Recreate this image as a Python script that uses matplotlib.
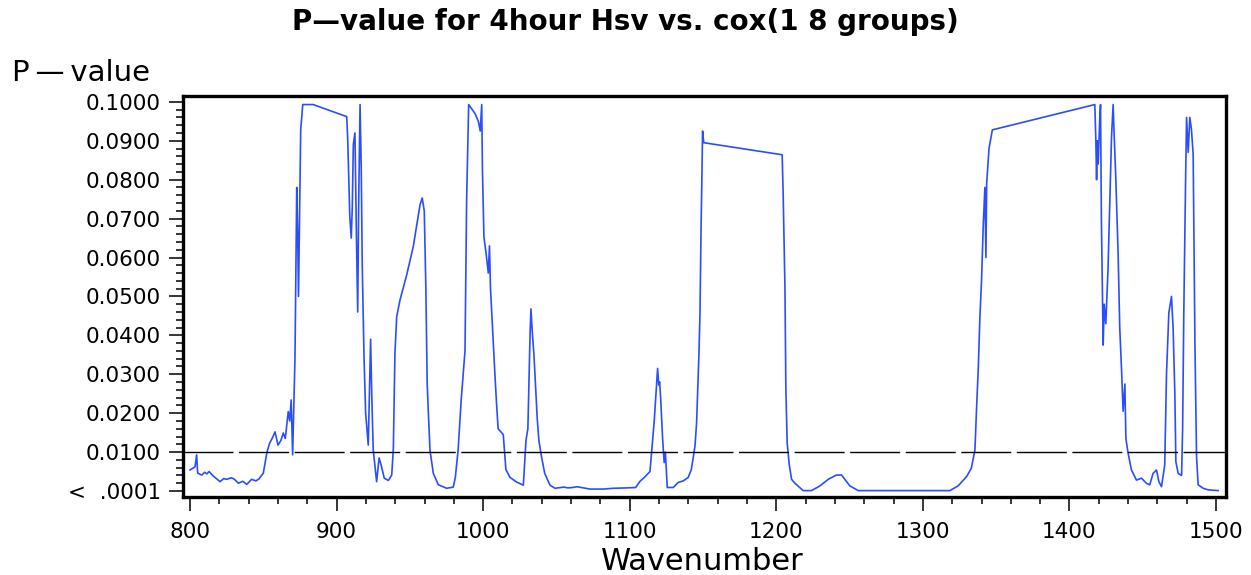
import numpy as np
import matplotlib.pyplot as plt
from matplotlib.ticker import MultipleLocator, FixedLocator

# wavenumber / p-value (values > 0.1 were dropped)
wavenumber = [
    800, 803.4, 804.5, 805.2, 808, 810, 811.5, 813, 816, 820.5,
    823, 825, 828, 830, 833, 836, 838.7, 842, 845, 847,
    850, 852.5, 854.3, 856, 858, 860, 862, 863.6, 865, 867,
    868, 869, 870, 871.6, 872.3, 872.8, 873.4, 874, 875.5, 876.9,
    884, 906.9, 907.6, 909, 910, 910.7, 911.4, 912.5, 913.5, 914.4,
    915, 916, 916.8, 917.5, 918.7, 919.8, 921.6, 923.2, 924, 925,
    927.3, 929, 930.5, 932.5, 935.3, 937.6, 938.7, 939.8, 941, 943.2,
    947.8, 952.3, 956.9, 958.4, 959.8, 960.9, 961.8, 962.5, 963.7, 966,
    969.4, 975.1, 979.6, 981, 982.9, 985, 987.6, 988.7, 990.1, 994.4,
    996.7, 998, 999, 999.5, 1000.5, 1002, 1003.5, 1004.3, 1005, 1006.9,
    1008, 1009.1, 1010.2, 1011.8, 1013.7, 1015.5, 1018.3, 1022.8, 1027.4, 1029.2,
    1030.5, 1032, 1032.6, 1033.3, 1034.6, 1035.8, 1036.9, 1038, 1039.8, 1042,
    1045.6, 1049, 1055, 1058, 1061, 1064, 1072.9, 1082, 1088.8, 1098,
    1104, 1107, 1110, 1113.8, 1115, 1116.7, 1118.3, 1119, 1119.8, 1120.4,
    1121, 1122.4, 1123.5, 1124.3, 1125.6, 1129.7, 1133, 1136.5, 1139.9, 1142,
    1144.5, 1145.6, 1147.2, 1147.9, 1148.6, 1149.7, 1150.5, 1204, 1204.7, 1205.9,
    1206.5, 1207.4, 1208.8, 1210.4, 1212.7, 1218.3, 1224, 1229.7, 1235.4, 1241,
    1244.5, 1250.2, 1255.9, 1318.4, 1324, 1329.8, 1333, 1335.5, 1336.6, 1337.8,
    1338.9, 1340, 1341.2, 1342.3, 1343, 1343.5, 1345.1, 1347.4, 1417.3, 1418,
    1418.5, 1419, 1419.6, 1420.7, 1421.2, 1421.8, 1423, 1423.7, 1424.8, 1426.3,
    1427.5, 1428.7, 1429.8, 1430.4, 1431.6, 1433.2, 1434.3, 1435.5, 1436.6, 1437.8,
    1438.5, 1440, 1442.3, 1445.7, 1449.1, 1452.5, 1454.8, 1457, 1459.4, 1461,
    1462.8, 1465, 1466.2, 1467.8, 1469.6, 1470.7, 1471.9, 1472.6, 1474.2, 1476.5,
    1477.2, 1478, 1479.2, 1479.9, 1481, 1482.1, 1483.2, 1484.4, 1485.6, 1486.7,
    1487.8, 1491.2, 1494.6, 1501.4,
]
p_value = [
    0.0054, 0.0062, 0.0093, 0.0046, 0.0041, 0.0048, 0.0044, 0.0050, 0.0038, 0.0024,
    0.0032, 0.0030, 0.0034, 0.0031, 0.0020, 0.0025, 0.0017, 0.0030, 0.0026, 0.0031,
    0.0046, 0.0100, 0.0123, 0.0135, 0.0152, 0.0118, 0.0130, 0.0149, 0.0135, 0.0204,
    0.0180, 0.0234, 0.0093, 0.0342, 0.0600, 0.0780, 0.0670, 0.0500, 0.0928, 0.0993,
    0.0993, 0.0962, 0.0902, 0.0705, 0.0650, 0.0730, 0.0890, 0.0920, 0.0660, 0.0460,
    0.0720, 0.0993, 0.0830, 0.0580, 0.0345, 0.0200, 0.0118, 0.0390, 0.0245, 0.0105,
    0.0024, 0.0085, 0.0065, 0.0033, 0.0027, 0.0041, 0.0108, 0.0354, 0.0448, 0.0490,
    0.0555, 0.0628, 0.0735, 0.0753, 0.0720, 0.0520, 0.0277, 0.0210, 0.0105, 0.0045,
    0.0016, 0.0007, 0.0010, 0.0035, 0.0105, 0.0234, 0.0360, 0.0745, 0.0993, 0.0970,
    0.0950, 0.0925, 0.0993, 0.0825, 0.0654, 0.0610, 0.0560, 0.0630, 0.0520, 0.0380,
    0.0300, 0.0226, 0.0160, 0.0153, 0.0145, 0.0055, 0.0035, 0.0023, 0.0015, 0.0130,
    0.0160, 0.0405, 0.0468, 0.0420, 0.0352, 0.0265, 0.0185, 0.0130, 0.0088, 0.0045,
    0.0015, 0.0007, 0.0010, 0.0008, 0.0009, 0.0011, 0.0005, 0.0005, 0.0007, 0.0008,
    0.0009, 0.0025, 0.0035, 0.0050, 0.0105, 0.0180, 0.0272, 0.0315, 0.0272, 0.0280,
    0.0245, 0.0135, 0.0073, 0.0100, 0.0009, 0.0009, 0.0022, 0.0026, 0.0035, 0.0055,
    0.0115, 0.0175, 0.0350, 0.0455, 0.0660, 0.0925, 0.0895, 0.0864, 0.0757, 0.0520,
    0.0266, 0.0124, 0.0068, 0.0030, 0.0020, 0.0001, 0.0001, 0.0013, 0.0030, 0.0041,
    0.0041, 0.0013, 0.0001, 0.0001, 0.0013, 0.0037, 0.0058, 0.0105, 0.0210, 0.0317,
    0.0447, 0.0540, 0.0685, 0.0780, 0.0600, 0.0790, 0.0880, 0.0928, 0.0993, 0.0900,
    0.0800, 0.0900, 0.0840, 0.0960, 0.0993, 0.0690, 0.0375, 0.0480, 0.0430, 0.0570,
    0.0735, 0.0910, 0.0993, 0.0925, 0.0805, 0.0610, 0.0420, 0.0315, 0.0205, 0.0275,
    0.0135, 0.0097, 0.0054, 0.0028, 0.0033, 0.0020, 0.0016, 0.0045, 0.0054, 0.0024,
    0.0011, 0.0067, 0.0300, 0.0458, 0.0500, 0.0420, 0.0250, 0.0075, 0.0045, 0.0040,
    0.0160, 0.0455, 0.0790, 0.0960, 0.0870, 0.0960, 0.0930, 0.0865, 0.0380, 0.0088,
    0.0016, 0.0007, 0.0003, 0.0001,
]

cutoff = 0.01
y_ticks = [0.0, 0.01, 0.02, 0.03, 0.04, 0.05, 0.06, 0.07, 0.08, 0.09, 0.10]
y_labels = ["<  .0001", "0.0100", "0.0200", "0.0300", "0.0400", "0.0500",
            "0.0600", "0.0700", "0.0800", "0.0900", "0.1000"]
x_ticks = [800, 900, 1000, 1100, 1200, 1300, 1400, 1500]

plt.rcParams['font.family'] = ['DejaVu Sans']

fig = plt.figure(figsize=(12.51, 5.75), dpi=100)
ax = fig.add_axes([183/1251, 1-497/575, (1226-183)/1251, (497-96)/575])

ax.plot(wavenumber, p_value, color='#2a4dff', lw=1.2)
ax.axhline(cutoff, color='black', lw=1.0, dashes=(36, 4))

ax.set_xlim(795.2, 1506.8)
ax.set_ylim(-0.00154, 0.1015)

ax.xaxis.set_major_locator(FixedLocator(x_ticks))
ax.xaxis.set_minor_locator(MultipleLocator(20))
ax.yaxis.set_major_locator(FixedLocator(y_ticks))
ax.yaxis.set_minor_locator(MultipleLocator(0.002))
ax.set_yticklabels(y_labels)

ax.tick_params(which='major', length=10, width=1.1, labelsize=15.5, pad=6)
ax.tick_params(which='minor', length=5, width=1.1)
ax.tick_params(axis='x', pad=8)
for s in ax.spines.values():
    s.set_linewidth(2.4)

fig.text(0.5, 1-22/575, "P\u2014value for 4hour Hsv vs. cox(1 8 groups)",
         ha='center', va='center', fontsize=20, fontweight='bold')
fig.text(12/1251, 1-73/575, "P\u2009\u2014\u2009value", ha='left', va='center', fontsize=21)
fig.text(702/1251, 1-562/575, "Wavenumber", ha='center', va='center', fontsize=22)

fig.savefig("out.png", dpi=100)
